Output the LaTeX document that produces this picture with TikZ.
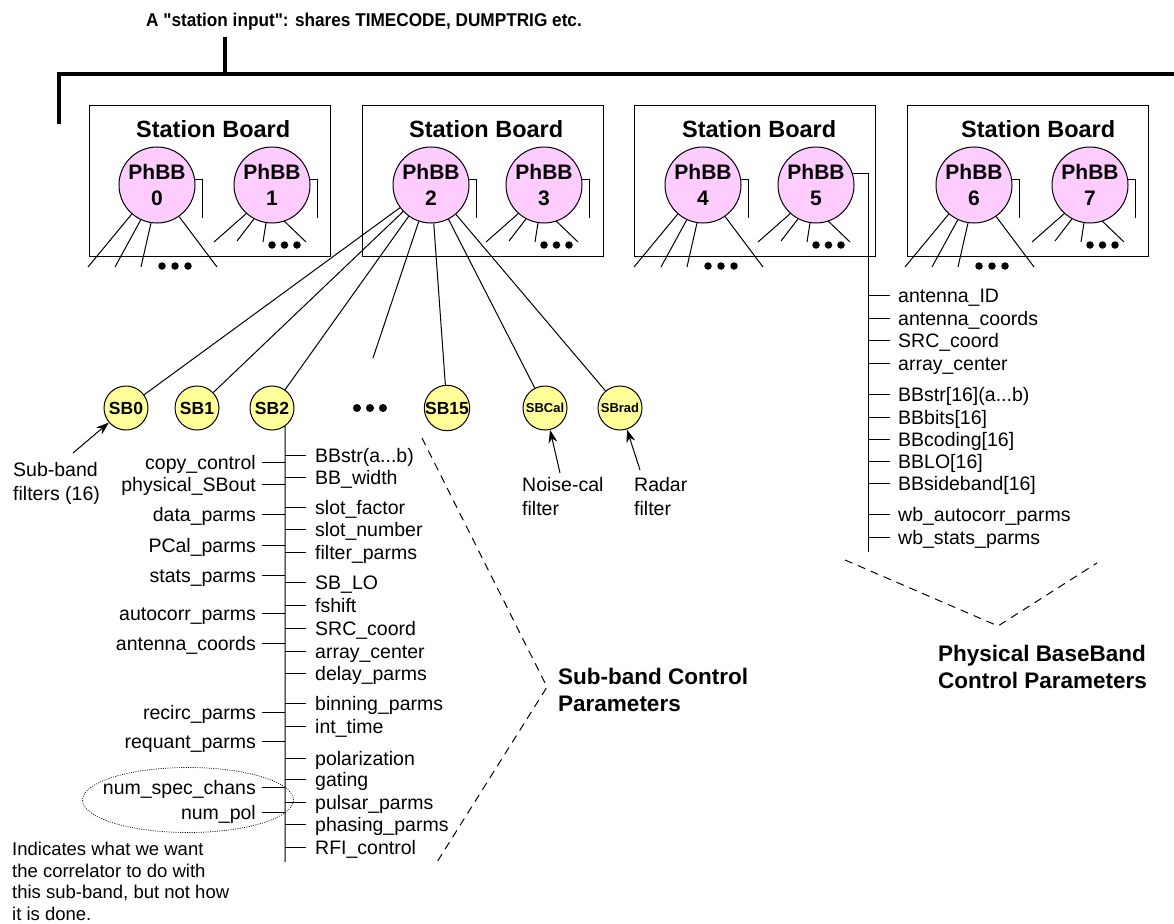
\documentclass[tikz,border=0pt]{standalone}
\usepackage{fontspec}
\setmainfont{Liberation Sans}
\usetikzlibrary{arrows.meta,calc,shapes.geometric}
\definecolor{phbbpink}{RGB}{255,204,255}
\definecolor{sbyellow}{RGB}{255,255,153}
% "a...b" kept in a macro so that \foreach does not read it as a range
\newcommand{\rangeab}{a...b}
% bold face loaded without the TeX quote mapping, so " stays straight
\font\titlefnt="Liberation Sans/B" at 18.5pt
\begin{document}
\begin{tikzpicture}[x=1pt,y=-1pt,
  conn/.style={line width=1pt},
  bus/.style={line width=4.5pt},
  board/.style={draw,line width=1.4pt,minimum width=241pt,minimum height=151pt,anchor=north west,inner sep=0pt},
  boardtitle/.style={font=\fontsize{23.5}{28}\selectfont\bfseries,anchor=base,inner sep=0pt},
  phbb/.style={circle,draw,line width=1pt,fill=phbbpink,minimum size=76pt,inner sep=0pt,align=center,font=\fontsize{21}{26}\selectfont\bfseries},
  sbnode/.style={circle,draw,line width=1pt,fill=sbyellow,minimum size=44pt,inner sep=0pt,font=\fontsize{17.5}{19}\selectfont\bfseries},
  sbsmall/.style={sbnode,font=\fontsize{13}{15}\selectfont\bfseries},
  lbl/.style={font=\fontsize{19.5}{22}\selectfont,inner ysep=0pt,text height=14pt,text depth=0pt},
  rlbl/.style={lbl,anchor=west,inner xsep=9pt},
  llbl/.style={lbl,anchor=east,inner xsep=6pt},
  note/.style={font=\fontsize{19.5}{24}\selectfont,align=left,anchor=north west,inner sep=0pt},
  bullet/.style={circle,fill=black,inner sep=0pt,minimum size=7.5pt},
  pointer/.style={line width=1pt,-{Stealth[length=13pt,width=9pt]}},
  vline/.style={line width=1pt,dash pattern=on 8pt off 6pt},
  heading/.style={font=\fontsize{22.5}{27}\selectfont\bfseries,align=left,anchor=north west,inner sep=0pt},
]
\useasboundingbox (0,0) rectangle (1174,923);
\fill[white] (0,0) rectangle (1174,923);

% ---- station input bus -------------------------------------------------
\node[anchor=base west,inner sep=0pt,font=\titlefnt] (title) at (146,27)
  {\scalebox{0.93}[1]{A "station input": shares TIMECODE, DUMPTRIG etc.}};
\coordinate (stemtop) at (225,37);
\coordinate (stembot) at (225,74);
\coordinate (busleft) at (59,124);
\coordinate (buscorner) at (59,74);
\coordinate (busright) at (1180,74);
\draw[bus] (stemtop) -- (stembot);
\draw[bus] (busleft) -- (buscorner) -- (busright);

% ---- station boards ----------------------------------------------------
\foreach \i/\x/\dx in {1/89/3, 2/362/3, 3/634/4, 4/907/10} {
  \node[board] (b\i) at (\x,105) {};
  \node[boardtitle] (bt\i) at ($(b\i.north)+(\dx,32)$) {Station Board};
}

% ---- physical baseband nodes -------------------------------------------
\foreach \n/\x in {0/157,1/272,2/431,3/544,4/703,5/816,6/974,7/1090} {
  \node[phbb] (p\n) at (\x,185) {PhBB\\\n};
}

% short stubs on the right of each PhBB
\foreach \n in {0,1,2,3,4,6,7} {
  \coordinate (t\n) at ($(p\n)+(45,33)$);
  \draw[conn] (p\n.8) -| (t\n);
}

% fans leaving the box (even boards)
\foreach \n in {0,4,6} {
  \foreach \a/\dx [count=\k] in {229/-69, 245/-42, 261/-16, 305/60} {
    \coordinate (fo\n\k) at ($(p\n)+(\dx,82)$);
    \draw[conn] (p\n.\a) -- (fo\n\k);
  }
  \foreach \dx [count=\k] in {5,18,31} {
    \node[bullet] (do\n\k) at ($(p\n)+(\dx,81)$) {};
  }
}

% fans inside the box (odd boards)
\foreach \n in {1,3,5,7} {
  \foreach \a/\dx/\dy [count=\k] in {228/-58/57, 242/-35/56, 261/-9/57, 289/34/57} {
    \coordinate (fi\n\k) at ($(p\n)+(\dx,\dy)$);
    \draw[conn] (p\n.\a) -- (fi\n\k);
  }
  \foreach \dx [count=\k] in {0,12.5,25} {
    \node[bullet] (di\n\k) at ($(p\n)+(\dx,60)$) {};
  }
}

% ---- sub-band filters --------------------------------------------------
\node[sbnode] (sb0) at (126,408) {SB0};
\node[sbnode] (sb1) at (197,408) {SB1};
\node[sbnode] (sb2) at (272,408) {SB2};
\node[sbnode] (sb15) at (447,408) {SB15};
\node[sbsmall] (sbcal) at (545,408) {SBCal};
\node[sbsmall] (sbrad) at (620,408) {SBrad};
\foreach \x [count=\k] in {357,370,383} {
  \node[bullet,minimum size=8pt] (sbd\k) at (\x,408) {};
}
\coordinate (sbgap) at (373,358);

\foreach \s in {sb0,sb1,sb2,sbgap,sb15,sbcal,sbrad} {
  \draw[conn] (p2) -- (\s);
}

% ---- annotations with arrows -------------------------------------------
\node[note] (sbnote) at (13,462) {Sub-band\\filters (16)};
\coordinate (sbnotetail) at (73,453);
\draw[pointer] (sbnotetail) -- (sb0);

\node[note] (calnote) at (522,477) {Noise-cal\\filter};
\coordinate (calnotetail) at (560,473);
\draw[pointer] (calnotetail) -- (sbcal);

\node[note] (radnote) at (634,477) {Radar\\filter};
\coordinate (radnotetail) at (640,470);
\draw[pointer] (radnotetail) -- (sbrad);

% ---- sub-band control parameters ---------------------------------------
\coordinate (sbstem) at (285,862);
\draw[conn] (sb2.-54) -- (sbstem);

\foreach \y/\t [count=\k] in {
  455/BBstr(\rangeab), 477/BB\_width, 507/slot\_factor, 529/slot\_number,
  552/filter\_parms, 582/SB\_LO, 605/fshift, 628/SRC\_coord,
  651/array\_center, 673/delay\_parms, 703/binning\_parms, 726/int\_time,
  758/polarization, 779/gating, 802/pulsar\_parms, 824/phasing\_parms,
  847/RFI\_control} {
  \node[rlbl] (sr\k) at (306,\y) {\t};
  \draw[conn] (sr\k.west -| sbstem) -- (sr\k.west);
}

\foreach \y/\t [count=\k] in {
  462/copy\_control, 484/physical\_SBout, 514/data\_parms, 545/PCal\_parms,
  575/stats\_parms, 613/autocorr\_parms, 643/antenna\_coords,
  712/recirc\_parms, 741/requant\_parms, 787/num\_spec\_chans, 812/num\_pol} {
  \node[llbl] (sl\k) at (262,\y) {\t};
  \draw[conn] (sl\k.east) -- (sl\k.east -| sbstem);
}

\node[ellipse,draw,line width=0.7pt,dash pattern=on 1pt off 1.3pt,minimum width=211pt,minimum height=65pt,inner sep=0pt] (userparms) at (188,800) {};

\node[anchor=north west,align=left,inner sep=0pt,font=\fontsize{18.5}{21.5}\selectfont] (usernote) at (12,842)
  {Indicates what we want\\the correlator to do with\\this sub-band, but not how\\it is done.};

\coordinate (sbv1) at (422,438);
\coordinate (sbv2) at (547,687);
\coordinate (sbv3) at (437,862);
\draw[vline] (sbv1) -- (sbv2) -- (sbv3);
\node[heading] (sbhead) at (558,668) {Sub-band Control\\Parameters};

% ---- physical baseband control parameters ------------------------------
\coordinate (p5bus) at (868,552);
\draw[conn] (p5.17) -| (p5bus);

\foreach \y/\t [count=\k] in {
  295/antenna\_ID, 318/antenna\_coords, 340/SRC\_coord, 363/array\_center,
  394/{BBstr[16](\rangeab)}, 417/{BBbits[16]}, 439/{BBcoding[16]}, 461/{BBLO[16]},
  483/{BBsideband[16]}, 514/wb\_autocorr\_parms, 537/wb\_stats\_parms} {
  \node[rlbl,inner xsep=8pt] (pr\k) at (890,\y) {\t};
  \draw[conn] (pr\k.west -| p5bus) -- (pr\k.west);
}

\coordinate (pbv1) at (845,560);
\coordinate (pbv2) at (998,626);
\coordinate (pbv3) at (1097,563);
\draw[vline] (pbv1) -- (pbv2) -- (pbv3);
\node[heading] (pbhead) at (938,645) {Physical BaseBand\\Control Parameters};
\end{tikzpicture}
\end{document}
